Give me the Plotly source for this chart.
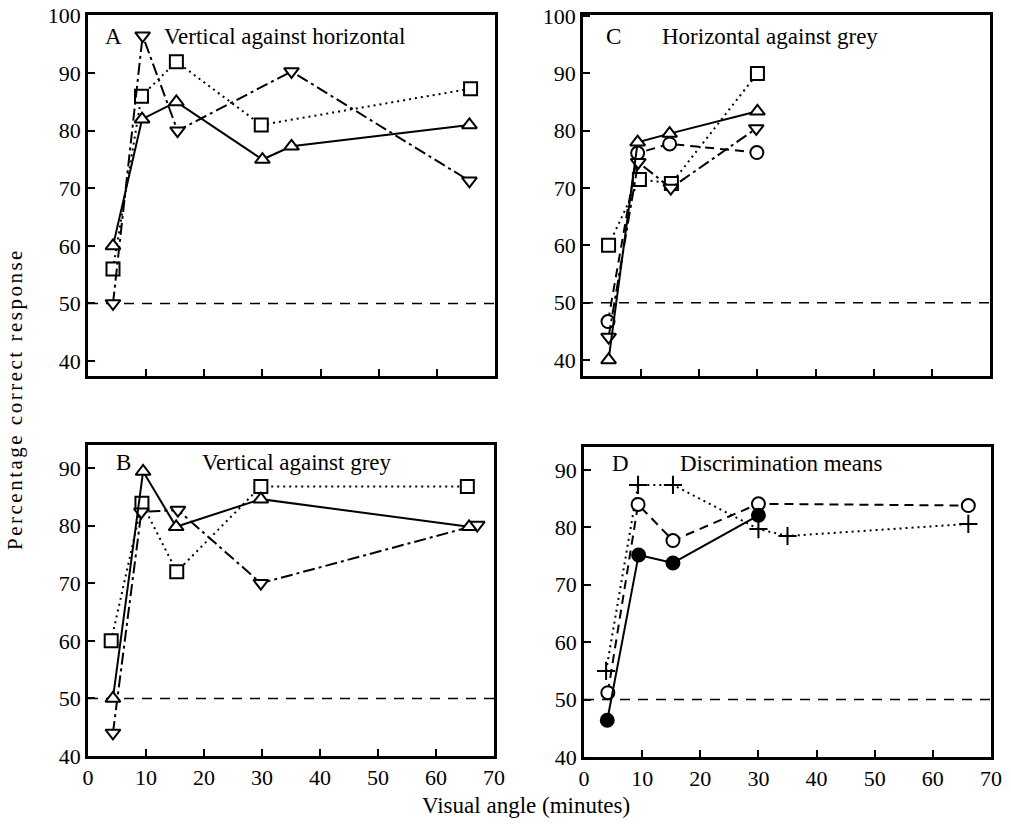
import plotly.graph_objects as go

OFF = 0
W, H = 1011, 825

# ---------------- data ----------------
# Panel A: Vertical against horizontal
a_up_x = [4.3, 9.3, 15.2, 30, 35, 65.6]
a_up_y = [60, 82, 85, 75, 77.3, 81]
a_sq_x = [4.3, 9.2, 15.2, 29.8, 65.8]
a_sq_y = [56, 86, 92, 81, 87.3]
a_dn_x = [4.3, 9.4, 15.4, 35, 65.6]
a_dn_y = [50, 96.5, 80, 90.3, 71.3]

# Panel C: Horizontal against grey
c_sq_x = [4.4, 9.7, 15.2, 30]
c_sq_y = [60, 71.5, 70.8, 90]
c_up_x = [4.4, 9.4, 14.9, 30]
c_up_y = [40, 78, 79.5, 83.4]
c_ci_x = [4.3, 9.4, 14.9, 29.9]
c_ci_y = [46.7, 76.1, 77.7, 76.2]
c_dn_x = [4.4, 9.5, 15.1, 29.8]
c_dn_y = [44, 74.5, 70, 80.4]

# Panel B: Vertical against grey
b_sq_x = [4.0, 9.3, 15.3, 29.8, 65.4]
b_sq_y = [60, 83.9, 72, 86.8, 86.8]
b_up_x = [4.3, 9.5, 15.2, 29.8, 65.7]
b_up_y = [50, 89.4, 79.8, 84.6, 79.8]
b_dn_x = [4.3, 9.2, 15.5, 29.8, 67.1]
b_dn_y = [44, 82.4, 82.7, 70, 80.1]

# Panel D: Discrimination means
d_fc_x = [4.0, 9.4, 15.3, 30]
d_fc_y = [46.4, 75.2, 73.8, 82.1]
d_oc_x = [4.1, 9.3, 15.3, 30, 66.1]
d_oc_y = [51.2, 84.0, 77.7, 84.1, 83.8]
d_pl_x = [3.8, 9.3, 15.3, 30, 35, 66.1]
d_pl_y = [55.0, 87.4, 87.4, 79.7, 78.5, 80.6]

x_ticks = [0, 10, 20, 30, 40, 50, 60, 70]
y_ticks_top = [40, 50, 60, 70, 80, 90, 100]
y_ticks_bot = [40, 50, 60, 70, 80, 90]

FONT = "Liberation Serif"

fig = go.Figure()


def series(x, y, xa, ya, symbol, dash, fill="white", size=13):
    fig.add_trace(go.Scatter(
        x=x, y=y, xaxis=xa, yaxis=ya, mode="lines+markers",
        line=dict(color="black", width=2, dash=dash),
        marker=dict(symbol=symbol, size=size, color=fill,
                    line=dict(color="black", width=2)),
        showlegend=False, cliponaxis=False))


DOT = "2px,4px"
DASHDOT = "12px,4px,3px,4px"
DASH = "9px,6px"

# A -> x, y
series(a_sq_x, a_sq_y, "x", "y", "square", DOT)
series(a_up_x, a_up_y, "x", "y", "triangle-up", "solid")
series(a_dn_x, a_dn_y, "x", "y", "triangle-down", DASHDOT)
# C -> x2, y2
series(c_sq_x, c_sq_y, "x2", "y2", "square", DOT)
series(c_ci_x, c_ci_y, "x2", "y2", "circle", DASH)
series(c_dn_x, c_dn_y, "x2", "y2", "triangle-down", DASHDOT)
series(c_up_x, c_up_y, "x2", "y2", "triangle-up", "solid")
# B -> x3, y3
series(b_sq_x, b_sq_y, "x3", "y3", "square", DOT)
series(b_dn_x, b_dn_y, "x3", "y3", "triangle-down", DASHDOT)
series(b_up_x, b_up_y, "x3", "y3", "triangle-up", "solid")
# D -> x4, y4
series(d_pl_x, d_pl_y, "x4", "y4", "cross-thin", DOT, size=13)
series(d_oc_x, d_oc_y, "x4", "y4", "circle", DASH)
series(d_fc_x, d_fc_y, "x4", "y4", "circle", "solid", fill="black")


def sx(px):
    return (px - OFF) / W


def sy(py):
    return 1 - (py - OFF) / H


def px_x(a, b):
    return [sx(a), sx(b)]


def px_y(top, bottom):
    return [sy(bottom), sy(top)]


axis_common = dict(showgrid=False, zeroline=False, showline=True, linecolor="black",
                   linewidth=2.5, mirror=True, ticks="inside", ticklen=7, tickwidth=2,
                   tickcolor="black", automargin=False,
                   tickfont=dict(family=FONT, size=22, color="black"))

xt = dict(range=[0, 70], tickvals=x_ticks, ticktext=[str(v) for v in x_ticks], **axis_common)

fig.update_layout(
    width=W, height=H, margin=dict(l=0, r=0, t=0, b=0, autoexpand=False),
    paper_bgcolor="white", plot_bgcolor="white",
    xaxis=dict(domain=px_x(88, 495), anchor="y", showticklabels=False, **xt),
    yaxis=dict(domain=px_y(15, 376), anchor="x", range=[37.4, 100.1],
               tickvals=y_ticks_top, **axis_common),
    xaxis2=dict(domain=px_x(583, 990), anchor="y2", showticklabels=False, **xt),
    yaxis2=dict(domain=px_y(15, 376), anchor="x2", range=[37.2, 100.2],
                tickvals=y_ticks_top, **axis_common),
    xaxis3=dict(domain=px_x(88, 494), anchor="y3", **xt),
    yaxis3=dict(domain=px_y(445, 756), anchor="x3", range=[40, 94],
                tickvals=y_ticks_bot, **axis_common),
    xaxis4=dict(domain=px_x(584, 991), anchor="y4", **xt),
    yaxis4=dict(domain=px_y(447, 757), anchor="x4", range=[40, 94],
                tickvals=y_ticks_bot, **axis_common),
)

# chance level lines at 50%
for xr, yr in [("x", "y"), ("x2", "y2"), ("x3", "y3"), ("x4", "y4")]:
    fig.add_shape(type="line", xref=xr, yref=yr, x0=0, x1=70, y0=50, y1=50,
                  line=dict(color="black", width=1.5, dash="10px,8px"), layer="below")


def label(text, px, py, anchor="left", size=23):
    fig.add_annotation(text=text, x=sx(px), y=sy(py), xref="paper", yref="paper",
                       xanchor=anchor, yanchor="middle", showarrow=False,
                       font=dict(family=FONT, size=size, color="black"))


label("A", 113, 36, "center")
label("Vertical against horizontal", 162, 36)
label("C", 613, 36, "center")
label("Horizontal against grey", 660, 36)
label("B", 123, 462, "center")
label("Vertical against grey", 200, 462)
label("D", 620, 464, "center")
label("Discrimination means", 678, 464)

fig.add_annotation(text="Visual angle (minutes)", x=sx(526), y=sy(805), xref="paper",
                   yref="paper", showarrow=False, xanchor="center", yanchor="middle",
                   font=dict(family=FONT, size=23, color="black"))
fig.add_annotation(text='<span style="letter-spacing:2.5px">Percentage correct response</span>',
                   x=sx(15), y=sy(399), xref="paper",
                   yref="paper", showarrow=False, xanchor="center", yanchor="middle",
                   textangle=-90, font=dict(family=FONT, size=21, color="black"))

fig.write_html("out.html", config={"displayModeBar": False},
               post_script="document.body.style.margin='0';document.body.style.overflow='hidden';")
